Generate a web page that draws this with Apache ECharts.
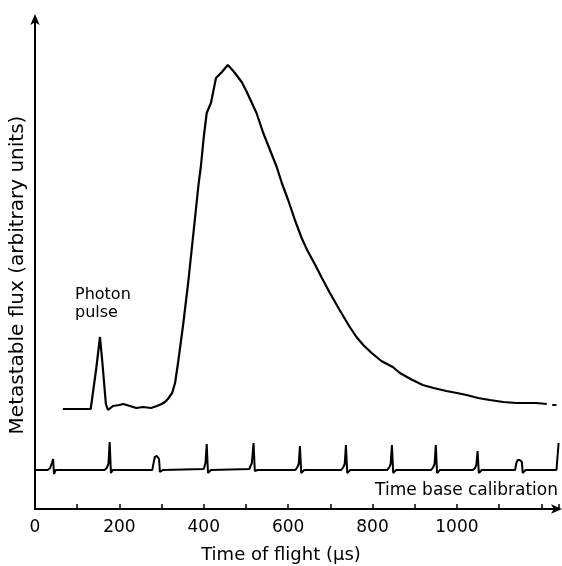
<!DOCTYPE html>
<html>
<head>
<meta charset="utf-8">
<script src="https://cdn.jsdelivr.net/npm/echarts@6/dist/echarts.min.js"></script>
<style>
html,body{margin:0;padding:0;background:#fff;}
#chart{width:562px;height:566px;}
</style>
</head>
<body>
<div id="chart"></div>
<script>
// Time of flight (µs) and metastable flux (arbitrary units)
const fluxTime = [66,132,145,154,160,168,173,185,200,209,225,240,256,275,289,300,308,315,325,332,339,345,351,357,363,368,373,378,383,388,393,400,407,417,429,443,457,470,490,502,525,541,557,573,585,600,616,632,645,663,680,699,722,746,762,778,798,821,848,865,890,919,945,975,1000,1023,1050,1078,1110,1141,1165,1188,1213];
const fluxValue = [100,100,140,172,145,105,99,103,104,105,103,101,102,101,103,105,107,110,116,126,146,165,184,205,226,246,266,286,306,326,342,372,396,406,431,437,444,438,427,417,396,376,359,342,326,309,289,271,259,245,231,216,199,182,172,164,156,148,142,136,130,124,121,118,116,114,111,109,107,106,106,106,105];
const fluxTail = [[1226,104],[1236,104]];

// Time base calibration trace
const calTime = [0,30,36,40,43,45,49,165,170,174,177,180,184,278,281,284,289,294,296,299,303,400,404,407,410,413,417,508,514,518,521,524,528,617,622,625,628,631,634,638,726,731,734,737,740,743,747,835,840,843,846,849,852,856,939,944,947,950,953,956,960,1038,1043,1046,1049,1052,1055,1059,1138,1141,1144,1149,1154,1156,1159,1163,1236,1241];
const calValue = [39,39,41,46,50,35,39,39,41,45,67,36,39,39,46,52,53,50,37,35,39,40,46,65,36,35,39,40,46,66,38,37,39,39,42,45,63,36,35,39,39,42,45,64,36,35,39,39,42,45,64,36,35,39,39,42,45,64,36,35,39,39,41,44,58,36,35,39,39,46,49,49,47,36,35,39,39,66];

const xTickLabels = ['0','200','400','600','800','1000'];

const fontFam = '"DejaVu Sans",sans-serif';
const chart = echarts.init(document.getElementById('chart'));
chart.setOption({
  animation: false,
  backgroundColor: '#fff',
  grid: {left: 35, right: 3, top: 17, bottom: 57},
  xAxis: {
    type: 'value', min: 0, max: 1242, interval: 100,
    axisLine: {show: true, lineStyle: {color: '#000', width: 2}, symbol: ['none','arrow'], symbolSize: [7, 11], symbolOffset: [0, 3]},
    axisTick: {show: true, inside: true, length: 5, lineStyle: {color: '#000', width: 1.5}},
    splitLine: {show: false},
    axisLabel: {
      margin: 10, color: '#000', fontFamily: fontFam, fontSize: 17,
      formatter: v => xTickLabels.indexOf(String(v)) >= 0 ? String(v) : ''
    }
  },
  yAxis: {
    type: 'value', min: 0, max: 492,
    axisLine: {show: true, lineStyle: {color: '#000', width: 2}, symbol: ['none','arrow'], symbolSize: [7, 11], symbolOffset: [0, 3]},
    axisTick: {show: false}, axisLabel: {show: false}, splitLine: {show: false}
  },
  graphic: [
    {type: 'text', left: 75, top: 286, style: {text: 'Photon\npulse', font: '16px ' + fontFam, fill: '#000', lineHeight: 18}},
    {type: 'text', right: 4, top: 482, style: {text: 'Time base calibration', font: '17px ' + fontFam, fill: '#000'}},
    {type: 'text', x: 281, y: 555, style: {text: 'Time of flight (µs)', font: '18px ' + fontFam, fill: '#000', align: 'center', verticalAlign: 'middle'}},
    {type: 'text', x: 18, y: 275, rotation: Math.PI/2, style: {text: 'Metastable flux (arbitrary units)', font: '20px ' + fontFam, fill: '#000', align: 'center', verticalAlign: 'middle'}}
  ],
  series: [
    {type: 'line', showSymbol: false, symbol: 'none', lineStyle: {color: '#000', width: 2.2},
     data: fluxTime.map((t, i) => [t, fluxValue[i]]).concat([[1220, '-']], fluxTail)},
    {type: 'line', showSymbol: false, symbol: 'none', lineStyle: {color: '#000', width: 2},
     data: calTime.map((t, i) => [t, calValue[i]])}
  ]
});
</script>
</body>
</html>
